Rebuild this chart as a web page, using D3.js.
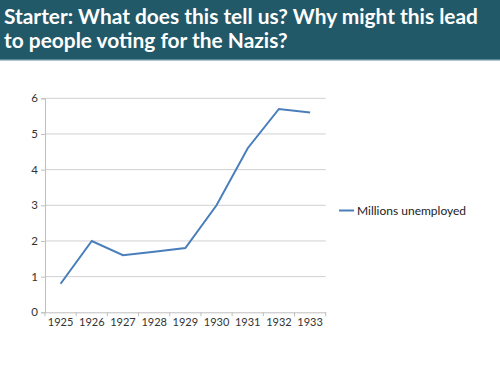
<!DOCTYPE html>
<html>
<head>
<meta charset="utf-8">
<script src="https://cdn.jsdelivr.net/npm/d3@7"></script>
<style>
  body { margin: 0; background: #fff; }
  svg { display: block; font-family: Lato, "Open Sans", sans-serif; }
</style>
</head>
<body>
<div id="chart"></div>
<script>
var years = ["1925", "1926", "1927", "1928", "1929", "1930", "1931", "1932", "1933"];
var unemployed = [0.8, 2.0, 1.6, 1.7, 1.8, 3.0, 4.6, 5.7, 5.6];
var yTicks = [0, 1, 2, 3, 4, 5, 6];
var seriesName = "Millions unemployed";
var titleLines = ["Starter: What does this tell us? Why might this lead", "to people voting for the Nazis?"];

var svg = d3.select("#chart")
    .append("svg")
    .attr("width", 500)
    .attr("height", 375);

// title bar
svg.append("rect")
    .attr("x", 0).attr("y", 0)
    .attr("width", 500).attr("height", 60)
    .style("fill", "#225968");
svg.append("rect")
    .attr("x", 0).attr("y", 59)
    .attr("width", 500).attr("height", 1.5)
    .style("fill", "#5c8a98");

svg.selectAll(".title")
    .data(titleLines)
    .enter().append("text")
    .attr("class", "title")
    .attr("x", 4)
    .attr("y", function (d, i) { return 24 + i * 24; })
    .style("fill", "#fff")
    .style("font-weight", "bold")
    .style("font-size", "20.9px")
    .text(function (d) { return d; });

// plot area
var pLeft = 45, pRight = 325.7, pTop = 98.3, pBottom = 312.3;

var x = d3.scaleBand().domain(years).range([pLeft, pRight]);
var y = d3.scaleLinear().domain([0, 6]).range([pBottom, pTop]);

// grid lines
svg.selectAll(".grid")
    .data(yTicks.slice(1))
    .enter().append("line")
    .attr("class", "grid")
    .attr("x1", pLeft).attr("x2", pRight)
    .attr("y1", function (d) { return y(d); })
    .attr("y2", function (d) { return y(d); })
    .style("stroke", "#d0d0d0")
    .style("stroke-width", 1);

// y axis
var yAxis = svg.append("g")
    .attr("transform", "translate(" + pLeft + ",0)")
    .call(d3.axisLeft(y).tickValues(yTicks).tickFormat(d3.format("d")).tickSize(4).tickPadding(3));
yAxis.select(".domain").style("stroke", "#bfbfbf");
yAxis.selectAll(".tick line").style("stroke", "#bfbfbf");
yAxis.selectAll("text").style("font-size", "11.5px").style("fill", "#333").style("font-family", "Lato, sans-serif");

// x axis
var xAxis = svg.append("g")
    .attr("transform", "translate(0," + pBottom + ")")
    .call(d3.axisBottom(x).tickSize(0).tickPadding(6));
xAxis.select(".domain").style("stroke", "#bfbfbf");
xAxis.selectAll("text").style("font-size", "11px").style("fill", "#333").style("font-family", "Lato, sans-serif");

// category boundary ticks
var bounds = years.map(function (d) { return x(d); }).concat([pRight]);
svg.selectAll(".xtick")
    .data(bounds)
    .enter().append("line")
    .attr("class", "xtick")
    .attr("x1", function (d) { return d; })
    .attr("x2", function (d) { return d; })
    .attr("y1", pBottom).attr("y2", pBottom + 4)
    .style("stroke", "#bfbfbf");

// data line
var line = d3.line()
    .x(function (d, i) { return x(years[i]) + x.bandwidth() / 2; })
    .y(function (d) { return y(d); });

svg.append("path")
    .datum(unemployed)
    .attr("d", line)
    .style("fill", "none")
    .style("stroke", "#4a7ebb")
    .style("stroke-width", 2);

// legend
svg.append("line")
    .attr("x1", 339).attr("x2", 354)
    .attr("y1", 210.5).attr("y2", 210.5)
    .style("stroke", "#4a7ebb")
    .style("stroke-width", 2);
svg.append("text")
    .attr("x", 357).attr("y", 215)
    .style("font-size", "12px")
    .style("fill", "#222")
    .text(seriesName);
</script>
</body>
</html>
